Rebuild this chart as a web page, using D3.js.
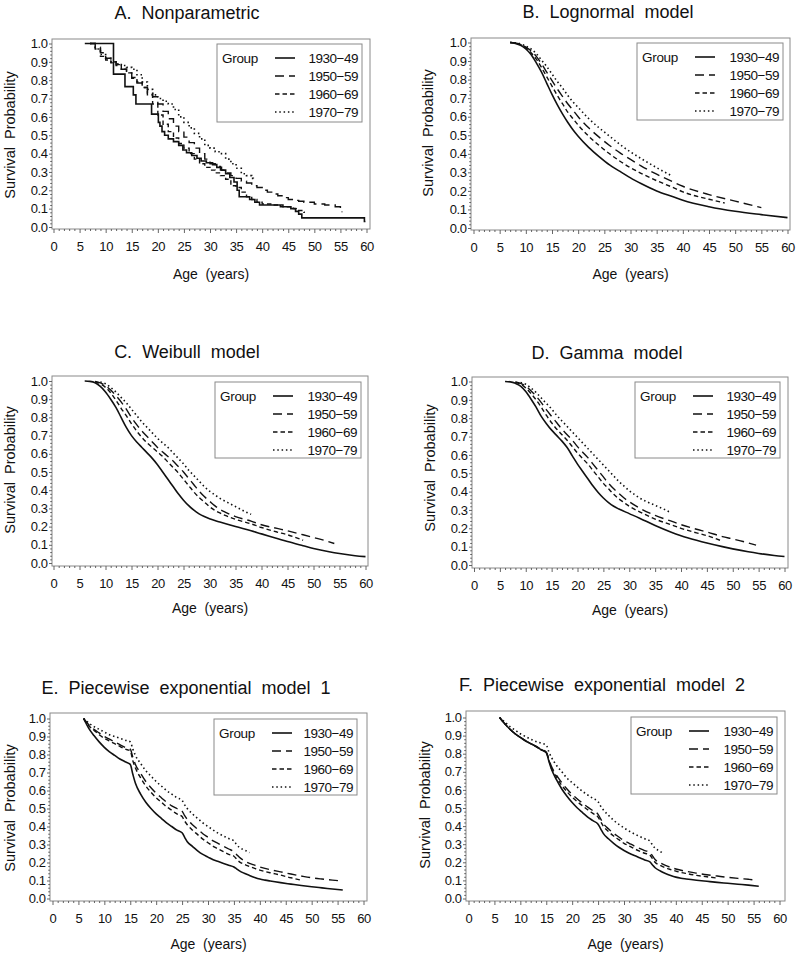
<!DOCTYPE html>
<html><head><meta charset="utf-8">
<script src="https://cdn.jsdelivr.net/npm/d3@7"></script>
<style>
body{margin:0;background:#fff}
svg{display:block}
text{font-family:"Liberation Sans",Arial,sans-serif;fill:#111}
</style>
</head><body>
<svg id="chart" width="800" height="958"></svg>
<script>
// ---------------- DATA ----------------
const groups = ["1930−49","1950−59","1960−69","1970−79"];
const panelTitles = ["A.  Nonparametric","B.  Lognormal  model","C.  Weibull  model","D.  Gamma  model","E.  Piecewise  exponential  model  1","F.  Piecewise  exponential  model  2"];
const xTickValues = [0,5,10,15,20,25,30,35,40,45,50,55,60];
const yTickValues = [0,0.1,0.2,0.3,0.4,0.5,0.6,0.7,0.8,0.9,1.0];
const xLabel = "Age  (years)";
const yLabel = "Survival  Probability";
const legendTitle = "Group";

// Panel A: Kaplan-Meier [age, survival]
const A_1930 = [[6,1],[11.5,0.833],[13.7,0.765],[15.3,0.72],[15.8,0.67],[18.8,0.615],[20.1,0.57],[20.4,0.55],[20.8,0.52],[21.3,0.5],[22,0.48],[23,0.465],[24,0.445],[24.8,0.42],[25.5,0.405],[26.5,0.39],[27.5,0.375],[28.3,0.36],[29.3,0.35],[30.5,0.34],[31.3,0.325],[32.2,0.31],[33,0.29],[33.8,0.27],[34.6,0.245],[35.2,0.2],[35.6,0.165],[37.6,0.15],[38.6,0.135],[39.5,0.12],[43.5,0.11],[45.5,0.1],[46.4,0.085],[47,0.07],[47.6,0.05],[59.6,0.03],[59.8,0.03]];
const A_1950 = [[7,1],[8,0.98],[9,0.95],[10,0.92],[11,0.9],[12,0.885],[13,0.86],[14,0.84],[15,0.81],[16,0.785],[17,0.76],[18,0.73],[19,0.71],[20,0.67],[21,0.63],[22,0.59],[23,0.55],[24,0.52],[25,0.49],[26,0.46],[27,0.43],[28,0.4],[29,0.37],[30,0.345],[31,0.33],[32,0.31],[33,0.295],[34,0.28],[35,0.265],[36,0.25],[37,0.24],[38,0.225],[39,0.215],[40,0.2],[41,0.19],[42,0.18],[43,0.17],[44,0.16],[45,0.15],[46,0.145],[47,0.14],[48,0.135],[50,0.125],[52,0.12],[54,0.11],[55,0.09],[55.3,0.08]];
const A_1960 = [[7,1],[8,0.97],[9,0.93],[10,0.91],[11,0.895],[12,0.88],[13,0.86],[14,0.84],[15,0.815],[16,0.79],[17,0.76],[18,0.72],[19,0.67],[20,0.61],[21,0.56],[22,0.52],[23,0.485],[24,0.455],[25,0.43],[26,0.4],[27,0.37],[28,0.345],[29,0.325],[30,0.31],[31,0.295],[32,0.28],[33,0.26],[34,0.225],[35,0.215],[36,0.19],[37,0.165],[38,0.15],[39,0.135],[40,0.125],[42,0.12],[44,0.11],[46,0.1],[47,0.09],[48,0.08],[48.2,0.08]];
const A_1970 = [[7,1],[8,0.97],[9,0.94],[10,0.92],[11,0.9],[12,0.89],[13,0.88],[14,0.87],[15,0.86],[16,0.83],[17,0.79],[18,0.75],[19,0.72],[20,0.7],[21,0.685],[22,0.67],[23,0.64],[24,0.6],[25,0.57],[26,0.54],[27,0.51],[28,0.48],[29,0.445],[30,0.43],[31,0.41],[32,0.4],[33,0.37],[34,0.345],[35,0.32],[36,0.29],[37,0.28],[38,0.265],[38.3,0.25]];

// Panel B: Lognormal
const B_1930 = [[7,1],[8,0.995],[9,0.985],[10,0.965],[11,0.935],[12,0.89],[13,0.84],[14,0.78],[15,0.72],[16,0.665],[17,0.615],[18,0.57],[19,0.53],[20,0.495],[22,0.435],[24,0.385],[26,0.34],[28,0.305],[30,0.27],[32,0.24],[35,0.2],[38,0.17],[40,0.15],[45,0.115],[50,0.09],[55,0.072],[60,0.056]];
const B_1950 = [[7,1],[8,0.997],[9,0.99],[10,0.975],[11,0.955],[12,0.925],[13,0.885],[14,0.84],[15,0.795],[16,0.75],[17,0.71],[18,0.67],[19,0.635],[20,0.6],[22,0.54],[24,0.49],[26,0.445],[28,0.405],[30,0.37],[32,0.335],[35,0.29],[38,0.25],[40,0.225],[45,0.18],[50,0.145],[55,0.11]];
const B_1960 = [[7,1],[8,0.996],[9,0.988],[10,0.97],[11,0.945],[12,0.91],[13,0.865],[14,0.815],[15,0.765],[16,0.715],[17,0.67],[18,0.625],[19,0.59],[20,0.555],[22,0.495],[24,0.445],[26,0.4],[28,0.36],[30,0.325],[32,0.295],[35,0.255],[38,0.22],[40,0.195],[45,0.155],[48,0.135]];
const B_1970 = [[7,1],[8,0.998],[9,0.993],[10,0.98],[11,0.965],[12,0.94],[13,0.905],[14,0.87],[15,0.83],[16,0.79],[17,0.755],[18,0.715],[19,0.68],[20,0.65],[22,0.59],[24,0.54],[26,0.495],[28,0.45],[30,0.41],[32,0.375],[35,0.325],[38,0.28]];

// Panel C: Weibull
const C_1930 = [[6,1],[7,0.998],[8,0.99],[9,0.97],[10,0.94],[11,0.9],[12,0.855],[13,0.8],[14,0.745],[15,0.7],[16,0.665],[17,0.635],[18,0.605],[19,0.575],[20,0.54],[21,0.5],[22,0.46],[23,0.42],[24,0.38],[25,0.345],[26,0.315],[27,0.29],[28,0.27],[29,0.255],[30,0.243],[32,0.225],[35,0.2],[38,0.177],[40,0.16],[43,0.135],[45,0.118],[48,0.095],[50,0.08],[53,0.062],[55,0.052],[58,0.04],[60,0.035]];
const C_1950 = [[8,0.997],[9,0.99],[10,0.975],[11,0.95],[12,0.92],[13,0.885],[14,0.845],[15,0.8],[16,0.76],[17,0.725],[18,0.695],[19,0.665],[20,0.635],[21,0.61],[22,0.585],[23,0.56],[24,0.53],[25,0.5],[26,0.465],[27,0.43],[28,0.395],[29,0.365],[30,0.34],[31,0.315],[32,0.295],[33,0.28],[35,0.255],[38,0.23],[40,0.21],[43,0.19],[45,0.177],[48,0.155],[50,0.14],[52,0.125],[54,0.107]];
const C_1960 = [[8,0.997],[9,0.985],[10,0.965],[11,0.935],[12,0.895],[13,0.85],[14,0.81],[15,0.765],[16,0.725],[17,0.69],[18,0.66],[19,0.635],[20,0.61],[21,0.585],[22,0.555],[23,0.525],[24,0.495],[25,0.46],[26,0.425],[27,0.39],[28,0.36],[29,0.335],[30,0.31],[31,0.29],[32,0.275],[33,0.262],[35,0.24],[38,0.215],[40,0.195],[43,0.17],[45,0.155],[48,0.125]];
const C_1970 = [[9,0.995],[10,0.985],[11,0.965],[12,0.94],[13,0.91],[14,0.88],[15,0.845],[16,0.81],[17,0.775],[18,0.745],[19,0.715],[20,0.685],[21,0.66],[22,0.635],[23,0.605],[24,0.575],[25,0.545],[26,0.51],[27,0.48],[28,0.45],[29,0.42],[30,0.395],[31,0.375],[32,0.355],[33,0.34],[34,0.325],[35,0.31],[36,0.295],[37,0.28],[38,0.268]];

// Panel D: Gamma
const D_1930 = [[6,1],[7,0.998],[8,0.99],[9,0.975],[10,0.945],[11,0.905],[12,0.86],[13,0.81],[14,0.77],[15,0.735],[16,0.705],[17,0.675],[18,0.64],[19,0.595],[20,0.55],[21,0.51],[22,0.47],[23,0.43],[24,0.395],[25,0.365],[26,0.34],[27,0.32],[28,0.305],[30,0.28],[32,0.255],[35,0.215],[38,0.18],[40,0.16],[43,0.135],[45,0.12],[48,0.1],[50,0.088],[53,0.072],[55,0.063],[58,0.052],[60,0.046]];
const D_1950 = [[8,0.997],[9,0.99],[10,0.975],[11,0.95],[12,0.92],[13,0.885],[14,0.845],[15,0.81],[16,0.775],[17,0.74],[18,0.71],[19,0.68],[20,0.645],[21,0.615],[22,0.585],[23,0.55],[24,0.515],[25,0.48],[26,0.445],[27,0.415],[28,0.39],[29,0.365],[30,0.345],[32,0.31],[35,0.27],[38,0.24],[40,0.22],[43,0.195],[45,0.18],[48,0.155],[50,0.142],[52,0.128],[54.5,0.108]];
const D_1960 = [[8,0.996],[9,0.985],[10,0.965],[11,0.935],[12,0.9],[13,0.86],[14,0.815],[15,0.775],[16,0.74],[17,0.71],[18,0.68],[19,0.645],[20,0.61],[21,0.58],[22,0.55],[23,0.515],[24,0.48],[25,0.445],[26,0.415],[27,0.385],[28,0.36],[29,0.34],[30,0.32],[32,0.29],[35,0.25],[38,0.22],[40,0.2],[43,0.175],[45,0.16],[48,0.13]];
const D_1970 = [[9,0.995],[10,0.985],[11,0.965],[12,0.94],[13,0.91],[14,0.88],[15,0.85],[16,0.815],[17,0.785],[18,0.755],[19,0.725],[20,0.695],[21,0.665],[22,0.635],[23,0.605],[24,0.575],[25,0.545],[26,0.515],[27,0.485],[28,0.455],[29,0.43],[30,0.405],[31,0.385],[32,0.365],[33,0.35],[35,0.325],[37,0.3],[38,0.285]];

// Panel E: Piecewise exponential model 1
const E_1930 = [[6,1],[7,0.945],[8,0.905],[9,0.87],[10,0.84],[11,0.815],[12,0.795],[13,0.775],[14,0.76],[15,0.745],[15.5,0.69],[16,0.64],[17,0.58],[18,0.535],[19,0.5],[20,0.47],[21,0.445],[22,0.42],[23,0.4],[24,0.38],[25,0.365],[25.5,0.34],[26,0.315],[27,0.29],[28,0.265],[29,0.245],[30,0.23],[31,0.215],[32,0.205],[33,0.195],[34,0.185],[35,0.175],[35.5,0.165],[36,0.155],[37,0.14],[38,0.128],[39,0.117],[40,0.108],[41,0.102],[42,0.097],[44,0.088],[46,0.08],[48,0.072],[50,0.065],[52,0.059],[54,0.053],[56,0.047]];
const E_1950 = [[6,1],[7,0.965],[8,0.94],[9,0.92],[10,0.9],[11,0.885],[12,0.87],[13,0.855],[14,0.84],[15,0.83],[15.5,0.785],[16,0.745],[17,0.695],[18,0.65],[19,0.615],[20,0.585],[21,0.56],[22,0.535],[23,0.515],[24,0.5],[25,0.485],[25.5,0.46],[26,0.44],[27,0.41],[28,0.385],[29,0.36],[30,0.34],[31,0.32],[32,0.305],[33,0.29],[34,0.275],[35,0.26],[35.5,0.245],[36,0.23],[37,0.21],[38,0.195],[39,0.185],[40,0.175],[42,0.16],[44,0.148],[46,0.136],[48,0.125],[50,0.115],[52,0.108],[54,0.102],[55.5,0.098]];
const E_1960 = [[6,1],[7,0.96],[8,0.935],[9,0.91],[10,0.89],[11,0.875],[12,0.86],[13,0.845],[14,0.83],[15,0.82],[15.5,0.765],[16,0.725],[17,0.67],[18,0.625],[19,0.59],[20,0.56],[21,0.535],[22,0.51],[23,0.49],[24,0.47],[25,0.455],[25.5,0.43],[26,0.41],[27,0.38],[28,0.355],[29,0.33],[30,0.31],[31,0.29],[32,0.275],[33,0.26],[34,0.245],[35,0.235],[35.5,0.22],[36,0.205],[37,0.19],[38,0.178],[39,0.167],[40,0.158],[42,0.143],[44,0.13],[46,0.115],[48,0.102]];
const E_1970 = [[6,1],[7,0.975],[8,0.955],[9,0.94],[10,0.925],[11,0.91],[12,0.9],[13,0.89],[14,0.88],[15,0.87],[15.5,0.83],[16,0.795],[17,0.75],[18,0.71],[19,0.68],[20,0.65],[21,0.625],[22,0.6],[23,0.58],[24,0.56],[25,0.545],[25.5,0.52],[26,0.5],[27,0.47],[28,0.445],[29,0.42],[30,0.4],[31,0.38],[32,0.362],[33,0.347],[34,0.333],[35,0.32],[35.5,0.3],[36,0.285],[37,0.27],[38,0.255]];

// Panel F: Piecewise exponential model 2
const F_1930 = [[6,1],[7,0.965],[8,0.935],[9,0.91],[10,0.89],[11,0.87],[12,0.855],[13,0.84],[14,0.822],[15,0.805],[15.5,0.76],[16,0.715],[17,0.655],[18,0.605],[19,0.565],[20,0.53],[21,0.5],[22,0.475],[23,0.45],[24,0.43],[25,0.41],[25.5,0.385],[26,0.36],[27,0.33],[28,0.305],[29,0.283],[30,0.265],[31,0.25],[32,0.237],[33,0.225],[34,0.213],[35,0.202],[35.5,0.185],[36,0.17],[37,0.152],[38,0.138],[39,0.127],[40,0.118],[41,0.112],[42,0.108],[44,0.101],[46,0.095],[48,0.089],[50,0.084],[52,0.079],[54,0.074],[56,0.068]];
const F_1950 = [[6,1],[7,0.965],[8,0.935],[9,0.91],[10,0.89],[11,0.872],[12,0.857],[13,0.842],[14,0.825],[15,0.81],[15.5,0.77],[16,0.73],[17,0.68],[18,0.64],[19,0.605],[20,0.575],[21,0.55],[22,0.527],[23,0.505],[24,0.485],[25,0.465],[25.5,0.44],[26,0.415],[27,0.385],[28,0.36],[29,0.34],[30,0.32],[31,0.305],[32,0.29],[33,0.277],[34,0.265],[35,0.255],[35.5,0.235],[36,0.215],[37,0.197],[38,0.183],[39,0.172],[40,0.163],[42,0.15],[44,0.14],[46,0.131],[48,0.124],[50,0.117],[52,0.111],[54,0.106],[55.5,0.102]];
const F_1960 = [[6,1],[7,0.965],[8,0.935],[9,0.91],[10,0.89],[11,0.872],[12,0.856],[13,0.84],[14,0.823],[15,0.807],[15.5,0.765],[16,0.72],[17,0.67],[18,0.625],[19,0.59],[20,0.56],[21,0.535],[22,0.512],[23,0.49],[24,0.47],[25,0.45],[25.5,0.425],[26,0.4],[27,0.37],[28,0.345],[29,0.325],[30,0.305],[31,0.29],[32,0.275],[33,0.262],[34,0.25],[35,0.24],[35.5,0.22],[36,0.2],[37,0.183],[38,0.17],[39,0.16],[40,0.151],[42,0.138],[44,0.128],[46,0.12],[48,0.113]];
const F_1970 = [[6,1],[7,0.975],[8,0.95],[9,0.93],[10,0.91],[11,0.895],[12,0.88],[13,0.868],[14,0.858],[15,0.848],[15.5,0.81],[16,0.78],[17,0.735],[18,0.7],[19,0.665],[20,0.64],[21,0.615],[22,0.592],[23,0.572],[24,0.553],[25,0.535],[25.5,0.51],[26,0.49],[27,0.46],[28,0.432],[29,0.41],[30,0.39],[31,0.372],[32,0.357],[33,0.343],[34,0.33],[35,0.318],[35.5,0.295],[36,0.278],[37,0.26],[37.5,0.25]];

// ---------------- LAYOUT / STYLE ----------------
const dashes = [null, "9,5", "4.5,3", "1.5,2.8"];
const widths = [1.6, 1.4, 1.4, 1.6];
const panels = [
  {title:panelTitles[0], series:[A_1930,A_1950,A_1960,A_1970], step:true,
   L:52,R:370,T:39,B:229, x0:53.5,x60:366.5, y1:43.5,y0:227, tx:187,ty:13, yx:10,yy:135, ay:274, lg:[217,44,145,78]},
  {title:panelTitles[1], series:[B_1930,B_1950,B_1960,B_1970],
   L:471,R:790,T:38,B:230, x0:473.5,x60:787.5, y1:42.5,y0:228, tx:608,ty:12, yx:428,yy:133, ay:274, lg:[637,43,146,77]},
  {title:panelTitles[2], series:[C_1930,C_1950,C_1960,C_1970],
   L:52,R:368,T:376,B:566, x0:53.5,x60:365.5, y1:381,y0:563, tx:187,ty:352, yx:10,yy:470, ay:608, lg:[215,382,146,76]},
  {title:panelTitles[3], series:[D_1930,D_1950,D_1960,D_1970],
   L:472,R:788,T:377,B:568, x0:474,x60:784.5, y1:381.5,y0:565, tx:607,ty:353, yx:430,yy:468, ay:610, lg:[635,382,145,76]},
  {title:panelTitles[4], series:[E_1930,E_1950,E_1960,E_1970],
   L:50,R:367,T:713,B:901, x0:52.5,x60:363.5, y1:718.5,y0:898.5, tx:186,ty:688, yx:10,yy:808, ay:944, lg:[214,719,143,76]},
  {title:panelTitles[5], series:[F_1930,F_1950,F_1960,F_1970],
   L:466,R:785,T:711,B:901, x0:468.5,x60:779.5, y1:717.5,y0:898.5, tx:602,ty:685, yx:425,yy:805, ay:944, lg:[631,717,146,77]}
];

const svg = d3.select("#chart");
const frameColor = "#8a8a8a";
const inkColor = "#111";

panels.forEach(p => {
  const g = svg.append("g");
  const x = d3.scaleLinear().domain([0,60]).range([p.x0,p.x60]);
  const y = d3.scaleLinear().domain([0,1]).range([p.y0,p.y1]);

  // frame
  g.append("rect").attr("x",p.L).attr("y",p.T).attr("width",p.R-p.L).attr("height",p.B-p.T)
    .attr("fill","none").attr("stroke",frameColor).attr("stroke-width",1);

  // x axis major
  const xa = g.append("g").attr("transform",`translate(0,${p.B})`)
    .call(d3.axisBottom(x).tickValues(xTickValues).tickSize(4).tickPadding(9).tickFormat(d3.format("d")));
  // x minor
  const xm = g.append("g").attr("transform",`translate(0,${p.B})`)
    .call(d3.axisBottom(x).tickValues(d3.range(0,61,1).filter(v=>v%5!==0)).tickSize(2).tickFormat(""));
  // y axis major
  const ya = g.append("g").attr("transform",`translate(${p.L},0)`)
    .call(d3.axisLeft(y).tickValues(yTickValues).tickSize(3).tickPadding(1.5).tickFormat(d3.format(".1f")));
  const ym = g.append("g").attr("transform",`translate(${p.L},0)`)
    .call(d3.axisLeft(y).tickValues(d3.range(0,50).map(i=>i*0.02).filter((v,i)=>i%5!==0)).tickSize(1.8).tickFormat(""));
  [xa,xm,ya,ym].forEach(a=>{
    a.select(".domain").remove();
    a.selectAll("line").attr("stroke","#555").attr("stroke-width",0.9);
    a.selectAll("text").attr("fill",inkColor).style("font-size","13px")
      .style("font-family",'"Liberation Sans",Arial,sans-serif').style("letter-spacing","-0.4px");
  });

  // title
  g.append("text").attr("x",p.tx).attr("y",p.ty).attr("text-anchor","middle")
    .attr("dominant-baseline","central").style("font-size","18px").style("white-space","pre")
    .text(p.title);
  // y label
  g.append("text").attr("transform",`translate(${p.yx},${p.yy}) rotate(-90)`)
    .attr("text-anchor","middle").attr("dominant-baseline","central")
    .style("font-size","14.5px").style("white-space","pre").text(yLabel);
  // x label
  g.append("text").attr("x",(p.L+p.R)/2).attr("y",p.ay).attr("text-anchor","middle")
    .attr("dominant-baseline","central").style("font-size","14px").style("white-space","pre").text(xLabel);

  // curves
  const line = d3.line().x(d=>x(d[0])).y(d=>y(d[1]))
    .curve(p.step ? d3.curveStepAfter : d3.curveMonotoneX);
  p.series.forEach((s,i)=>{
    g.append("path").datum(s).attr("d",line).attr("fill","none")
      .attr("stroke",inkColor).attr("stroke-width",widths[i])
      .attr("stroke-dasharray",dashes[i]);
  });

  // legend
  const [lx,ly,lw,lh] = p.lg;
  const lg = g.append("g").attr("transform",`translate(${lx},${ly})`);
  lg.append("rect").attr("width",lw).attr("height",lh).attr("fill","#fff")
    .attr("stroke",frameColor).attr("stroke-width",1);
  lg.append("text").attr("x",5).attr("y",14.5).attr("dominant-baseline","central")
    .style("font-size","13.5px").style("letter-spacing","-0.3px").text(legendTitle);
  groups.forEach((gname,i)=>{
    const ry = 14 + i*18;
    lg.append("line").attr("x1",58).attr("x2",78).attr("y1",ry).attr("y2",ry)
      .attr("stroke",inkColor).attr("stroke-width",widths[i]).attr("stroke-dasharray",dashes[i]);
    lg.append("text").attr("x",lw-4).attr("y",ry+0.5).attr("text-anchor","end")
      .attr("dominant-baseline","central").style("font-size","13.5px").style("letter-spacing","-0.5px").text(gname);
  });
});
</script>
</body></html>
